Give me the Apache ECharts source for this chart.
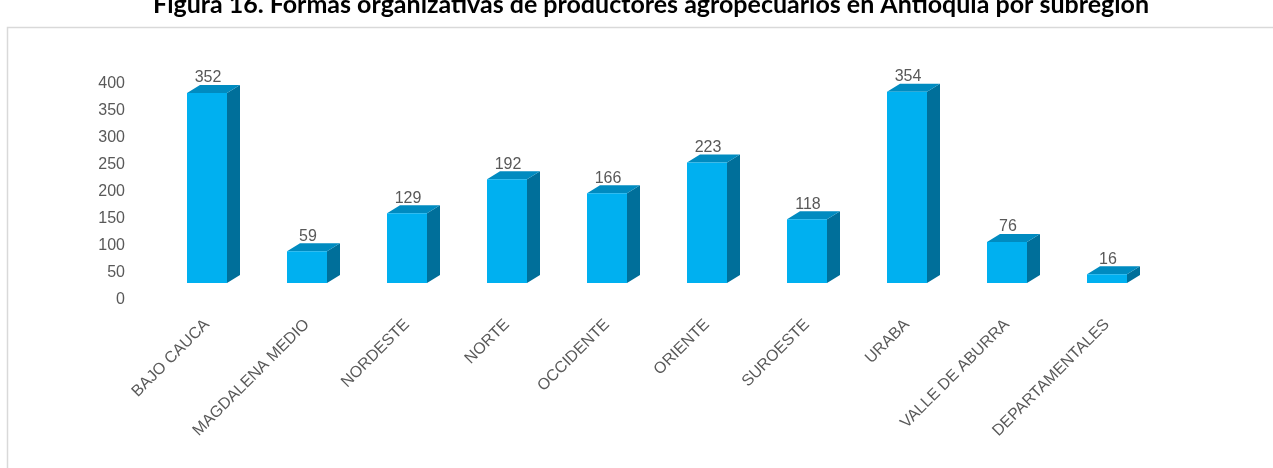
<!DOCTYPE html>
<html>
<head>
<meta charset="utf-8">
<script src="https://cdn.jsdelivr.net/npm/echarts@6/dist/echarts.min.js"></script>
<style>
html,body{margin:0;padding:0;background:#fff;}
#c{width:1273px;height:468px;}
</style>
</head>
<body>
<div id="c"></div>
<script>
const titleText = 'Figura 16. Formas organizativas de productores agropecuarios en Antioquia por subregión';
const categories = ['BAJO CAUCA','MAGDALENA MEDIO','NORDESTE','NORTE','OCCIDENTE','ORIENTE','SUROESTE','URABA','VALLE DE ABURRA','DEPARTAMENTALES'];
const values = [352,59,129,192,166,223,118,354,76,16];
const yTicks = [0,50,100,150,200,250,300,350,400];

const chart = echarts.init(document.getElementById('c'));
const OFF = 17, DX = 13, DY = 8;
function renderItem(params, api){
  const i = api.value(0), v = api.value(1);
  const base = api.coord([i,0]);
  const top = api.coord([i,v]);
  const w = 40;
  const x0 = base[0]-w/2, x1 = base[0]+w/2;
  const yb = base[1]-OFF, yt = top[1]-OFF;
  return {
    type:'group',
    children:[
      {type:'polygon', shape:{points:[[x1,yb],[x1+DX,yb-DY],[x1+DX,yt-DY],[x1,yt]]}, style:{fill:'#006F9A'}},
      {type:'polygon', shape:{points:[[x0,yt],[x0+DX,yt-DY],[x1+DX,yt-DY],[x1,yt]]}, style:{fill:'#008BC0'}},
      {type:'rect', shape:{x:x0,y:yt,width:w,height:yb-yt}, style:{fill:'#00B0F0'}},
      {type:'text', style:{text:String(v), x:base[0]+1, y:yt-DY+1, textAlign:'center', textVerticalAlign:'bottom', fill:'#595959', fontSize:16, fontFamily:'Liberation Sans'}}
    ]
  };
}
chart.setOption({
  animation:false,
  title:{text:titleText, left:148, top:-13, textStyle:{fontFamily:'Lato', fontWeight:'bold', fontSize:25, color:'#000'}},
  graphic:[{type:'rect', shape:{x:7.5,y:27.5,width:1400,height:600}, style:{fill:'none', stroke:'#D9D9D9', lineWidth:1.5}, silent:true}],
  grid:{left:157, width:1000, top:84, height:216},
  xAxis:{type:'category', data:categories, axisLine:{show:false}, axisTick:{show:false},
    axisLabel:{interval:0, rotate:45, color:'#595959', fontSize:16, fontFamily:'Liberation Sans', margin:22}},
  yAxis:{type:'value', min:yTicks[0], max:yTicks[yTicks.length-1], interval:50, splitLine:{show:false}, axisLine:{show:false}, axisTick:{show:false},
    axisLabel:{color:'#595959', fontSize:16, fontFamily:'Liberation Sans', margin:32}},
  series:[{type:'custom', renderItem:renderItem, data:values.map((v,i)=>[i,v]), clip:false}]
});
</script>
</body>
</html>
